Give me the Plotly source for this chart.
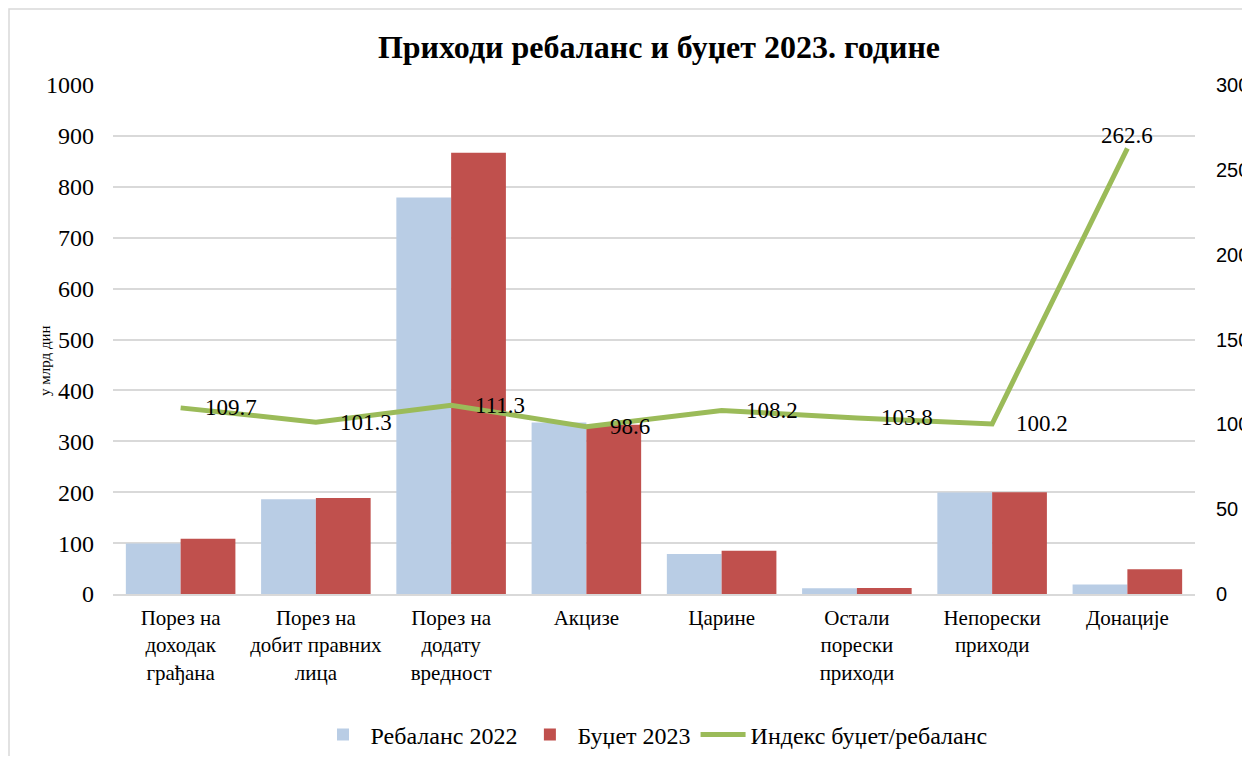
import plotly.graph_objects as go

categories = [
    "Порез на<br>доходак<br>грађана",
    "Порез на<br>добит правних<br>лица",
    "Порез на<br>додату<br>вредност",
    "Акцизе",
    "Царине",
    "Остали<br>порески<br>приходи",
    "Непорески<br>приходи",
    "Донације",
]
rebalans_2022 = [99, 186, 779, 337, 78.5, 11.3, 199.6, 18.5]
budzet_2023 = [108.6, 188.4, 867, 332.3, 85, 11.7, 200, 48.6]
indeks = [109.7, 101.3, 111.3, 98.6, 108.2, 103.8, 100.2, 262.6]
indeks_labels = ["109.7", "101.3", "111.3", "98.6", "108.2", "103.8", "100.2", "262.6"]

serif = "Liberation Serif, Times New Roman, serif"
grid = "#D9D9D9"

# page body has an 8px margin; figure is placed at (8, 8)
W, H = 1242, 748
OFF = 8
PL, PR, PT, PB = 113, 1195, 85, 594  # plot area in window pixels
PW, PH = PR - PL, PB - PT


def px(x):
    return (x - PL) / PW


def py(y):
    return (PB - y) / PH


fig = go.Figure()
fig.add_trace(go.Bar(x=categories, y=rebalans_2022, name="Ребаланс 2022",
                     marker=dict(color="#B9CDE5", line=dict(width=0))))
fig.add_trace(go.Bar(x=categories, y=budzet_2023, name="Буџет 2023",
                     marker=dict(color="#C0504D", line=dict(width=0))))
fig.add_trace(go.Scatter(x=categories, y=indeks, name="Индекс буџет/ребаланс",
                         yaxis="y2", mode="lines",
                         line=dict(color="#9BBB59", width=5)))

annotations = []
for i, (c, v, t) in enumerate(zip(categories, indeks, indeks_labels)):
    if i == len(categories) - 1:
        annotations.append(dict(x=c, y=v, xref="x", yref="y2", text=t, showarrow=False,
                                xanchor="center", yanchor="bottom", yshift=-2,
                                font=dict(family=serif, size=23, color="black")))
    else:
        annotations.append(dict(x=c, y=v, xref="x", yref="y2", text=t, showarrow=False,
                                xanchor="left", yanchor="middle", xshift=22,
                                font=dict(family=serif, size=23, color="black")))

annotations.append(dict(text="у млрд дин", xref="paper", yref="paper",
                        x=px(45), y=py(361), textangle=-90,
                        showarrow=False, font=dict(family=serif, size=15),
                        xanchor="center", yanchor="middle"))

fig.update_layout(
    width=W, height=H,
    margin=dict(l=PL - OFF, r=W - (PR - OFF), t=PT - OFF, b=H - (PB - OFF), autoexpand=False),
    paper_bgcolor="white", plot_bgcolor="white",
    barmode="group", bargap=0.19, bargroupgap=0,
    font=dict(family=serif, size=21, color="black"),
    title=dict(text="<b>Приходи ребаланс и буџет 2023. године</b>",
               x=(659 - OFF) / W, xanchor="center", y=1 - (47 - OFF) / H, yanchor="middle",
               xref="container", yref="container",
               font=dict(family=serif, size=32, color="black")),
    xaxis=dict(showgrid=False, showline=True, linecolor=grid, linewidth=1.5,
               ticks="", tickfont=dict(family=serif, size=21), automargin=False,
               ticklabelstandoff=4),
    yaxis=dict(range=[0, 1000], dtick=100, showgrid=True, gridcolor=grid, gridwidth=1.5,
               zeroline=False, showline=False, ticks="",
               tickfont=dict(family=serif, size=24), automargin=False,
               ticklabelstandoff=18),
    yaxis2=dict(range=[0, 300], dtick=50, overlaying="y", side="right",
                showgrid=False, zeroline=False, showline=False, ticks="",
                tickfont=dict(family="Liberation Sans, Arial, sans-serif", size=20),
                automargin=False, ticklabelstandoff=20),
    legend=dict(orientation="h", x=0.5, xanchor="center", y=py(735),
                yanchor="middle", font=dict(family=serif, size=24),
                itemwidth=45, tracegroupgap=0),
    shapes=[dict(type="rect", xref="paper", yref="paper",
                 x0=px(9), x1=px(1275), y0=py(790), y1=py(9),
                 line=dict(color=grid, width=1.5), layer="below")],
    annotations=annotations,
)

fig.write_html("out.html")
